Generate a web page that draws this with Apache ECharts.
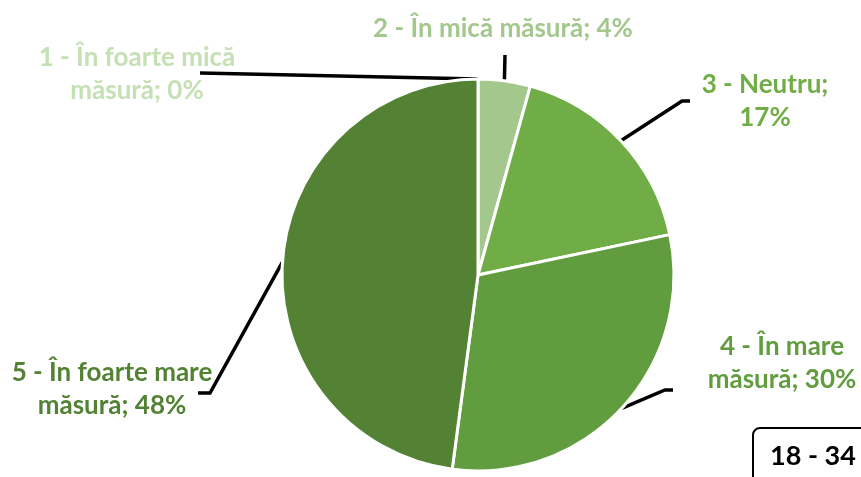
<!DOCTYPE html>
<html>
<head>
	<meta charset="utf-8"/>
	<title>18 - 34</title>
	<style>
		* {
			margin: 0;
			padding: 0;
		}
		html, body {
			width: 100%;
			height: 100%;
			background: #fff;
		}
		#main {
			width: 861px;
			height: 477px;
		}
	</style>
</head>
<body>

	<div id="main"></div>

	<script src="https://cdn.jsdelivr.net/npm/echarts@6/dist/echarts.min.js"></script>
	<script>
		var categories = ['1 - În foarte mică\nmăsură', '2 - În mică măsură', '3 - Neutru', '4 - În mare\nmăsură', '5 - În foarte mare\nmăsură'];
		var separators = [' ', ' ', '\n', ' ', ' '];
		var values = [0, 4.3, 17.4, 30.4, 47.9];
		var colors = ['#c5e0b4', '#a4c78e', '#70ad47', '#619d3f', '#548235'];
		var groupName = '18 - 34';

		// where each label sits and where its leader line bends
		var labelSpots = [
			{ x: 137, y: 74, line: [[200, 73]] },
			{ x: 503, y: 29, line: [[505, 55]] },
			{ x: 765, y: 101, line: [[682, 101], [690, 101]] },
			{ x: 782, y: 363, line: [[665, 390], [673, 390]] },
			{ x: 112, y: 389, line: [[210, 393], [198, 393]] }
		];

		var myChart = echarts.init(document.getElementById('main'));

		var seriesData = values.map(function (v, i) {
			return {
				name: categories[i],
				value: v,
				itemStyle: { color: colors[i] },
				label: { color: colors[i] }
			};
		});

		var option = {
			animation: false,
			series: [{
				type: 'pie',
				center: [478, 275],
				radius: 196,
				startAngle: 90,
				clockwise: true,
				data: seriesData,
				itemStyle: {
					borderColor: '#fff',
					borderWidth: 3
				},
				label: {
					show: true,
					fontFamily: 'Lato',
					fontWeight: 'bold',
					fontSize: 26,
					lineHeight: 33,
					align: 'center',
					formatter: function (p) {
						return p.name + ';' + separators[p.dataIndex] + Math.round(p.percent) + '%';
					}
				},
				labelLine: {
					show: true,
					lineStyle: { color: '#000', width: 3.5 }
				},
				labelLayout: function (params) {
					var spot = labelSpots[params.dataIndex];
					var start = params.labelLinePoints ? params.labelLinePoints[0] : [478, 79];
					return {
						x: spot.x,
						y: spot.y,
						align: 'center',
						verticalAlign: 'middle',
						labelLinePoints: [start].concat(spot.line)
					};
				}
			}],
			graphic: [{
				type: 'rect',
				left: 752,
				top: 427,
				shape: { width: 160, height: 60, r: 7 },
				style: { fill: '#fff', stroke: '#000', lineWidth: 2 }
			}, {
				type: 'text',
				left: 770,
				top: 443,
				style: {
					text: groupName,
					font: 'bold 27px Lato',
					fill: '#000'
				}
			}]
		};

		myChart.setOption(option);
	</script>
</body>
</html>
